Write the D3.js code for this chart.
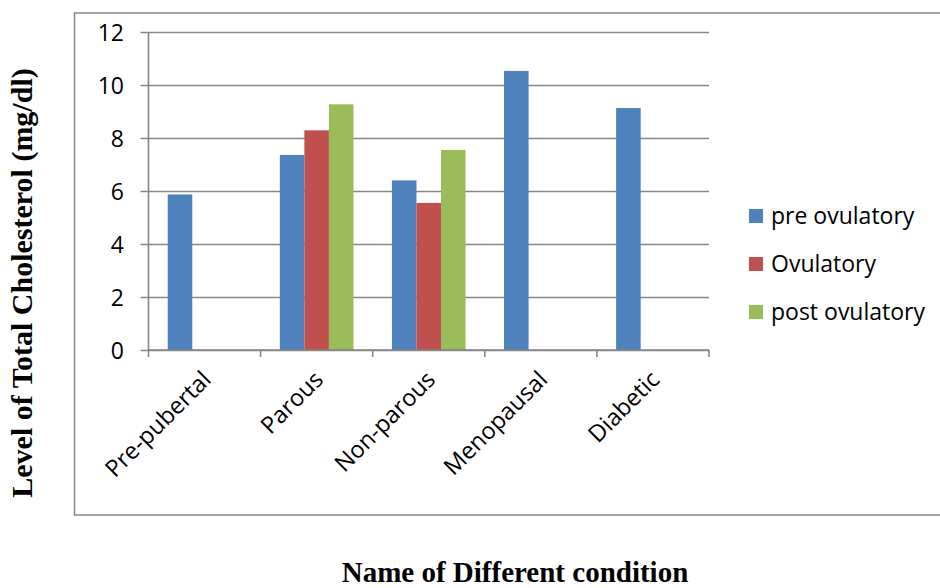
<!DOCTYPE html>
<html>
<head>
<meta charset="utf-8">
<script src="https://cdn.jsdelivr.net/npm/d3@7"></script>
<style>
  html, body { margin: 0; padding: 0; background: #fff; }
  svg { display: block; }
</style>
</head>
<body>
<svg id="chart" width="940" height="588"></svg>
<script>
const categories = ["Pre-pubertal", "Parous", "Non-parous", "Menopausal", "Diabetic"];
const seriesNames = ["pre ovulatory", "Ovulatory", "post ovulatory"];
const preOvulatory = [5.87, 7.36, 6.40, 10.53, 9.13];
const ovulatory = [null, 8.29, 5.55, null, null];
const postOvulatory = [null, 9.27, 7.55, null, null];
const yTicks = [0, 2, 4, 6, 8, 10, 12];
const colors = ["#4F81BD", "#C0504D", "#9BBB59"];
const yTitle = "Level of Total Cholesterol (mg/dl)";
const xTitle = "Name of Different condition";

const seriesValues = [preOvulatory, ovulatory, postOvulatory];

const svg = d3.select("#chart");
const plot = { left: 148.5, right: 709, top: 32, bottom: 350 };
const gridColor = "#868686";
const tickFont = "'Open Sans', sans-serif";

// outer border (chart area)
svg.append("rect")
  .attr("x", 74.5).attr("y", 13)
  .attr("width", 900).attr("height", 502)
  .attr("fill", "none").attr("stroke", gridColor).attr("stroke-width", 1.5);

const x = d3.scaleBand().domain(categories).range([plot.left, plot.right]).padding(0);
const y = d3.scaleLinear().domain([0, 12]).range([plot.bottom, plot.top]);

// gridlines + y ticks
const yAxis = d3.axisLeft(y).tickValues(yTicks).tickSize(plot.right - plot.left + 8).tickSizeOuter(0).tickPadding(0);
const gy = svg.append("g").attr("transform", `translate(${plot.right},0)`).call(yAxis);
gy.select(".domain").remove();
gy.selectAll(".tick line").attr("stroke", gridColor).attr("stroke-width", 1.6);
gy.selectAll(".tick text")
  .attr("x", -(plot.right - 124))
  .attr("dy", "0.36em")
  .attr("text-anchor", "end")
  .style("font-family", tickFont).style("font-size", "23px").attr("fill", "#000");

// y axis line
svg.append("line")
  .attr("x1", plot.left).attr("x2", plot.left)
  .attr("y1", plot.top).attr("y2", plot.bottom)
  .attr("stroke", gridColor).attr("stroke-width", 1.6);

// bars
const bw = x.bandwidth() * 0.219;
seriesValues.forEach((vals, si) => {
  svg.append("g").selectAll("rect")
    .data(categories.map((c, i) => ({ c, v: vals[i] })).filter(d => d.v != null))
    .join("rect")
    .attr("x", d => x(d.c) + x.bandwidth() / 2 - 1.5 * bw + si * bw)
    .attr("y", d => y(d.v))
    .attr("width", bw)
    .attr("height", d => y(0) - y(d.v))
    .attr("fill", colors[si]);
});

// x axis
const boundaries = categories.map(c => x(c)).concat([plot.right]);
svg.append("line")
  .attr("x1", plot.left).attr("x2", plot.right)
  .attr("y1", plot.bottom).attr("y2", plot.bottom)
  .attr("stroke", gridColor).attr("stroke-width", 1.6);
svg.append("g").selectAll("line").data(boundaries).join("line")
  .attr("x1", d => d).attr("x2", d => d)
  .attr("y1", plot.bottom).attr("y2", plot.bottom + 7)
  .attr("stroke", gridColor).attr("stroke-width", 1.6);

svg.append("g").selectAll("text").data(categories).join("text")
  .attr("transform", d => `translate(${x(d) + x.bandwidth() / 2 + 8},381) rotate(-45)`)
  .attr("text-anchor", "end")
  .style("font-family", tickFont).style("font-size", "23.5px").attr("fill", "#000")
  .text(d => d);

// legend
const lg = svg.append("g");
seriesNames.forEach((name, i) => {
  const cy = 216 + i * 48;
  lg.append("rect").attr("x", 749).attr("y", cy - 7).attr("width", 14).attr("height", 14).attr("fill", colors[i]);
  lg.append("text").attr("x", 771).attr("y", cy).attr("dy", "0.36em")
    .style("font-family", tickFont).style("font-size", "23px").attr("fill", "#000")
    .text(name);
});

// axis titles
svg.append("text")
  .attr("transform", "translate(32,283) rotate(-90)")
  .attr("text-anchor", "middle")
  .style("font-family", "'Liberation Serif', 'Times New Roman', serif")
  .style("font-weight", "bold").style("font-size", "30px").attr("fill", "#000")
  .text(yTitle);

svg.append("text")
  .attr("x", 515).attr("y", 582)
  .attr("text-anchor", "middle")
  .style("font-family", "'Liberation Serif', 'Times New Roman', serif")
  .style("font-weight", "bold").style("font-size", "29px").attr("fill", "#000")
  .text(xTitle);
</script>
</body>
</html>
